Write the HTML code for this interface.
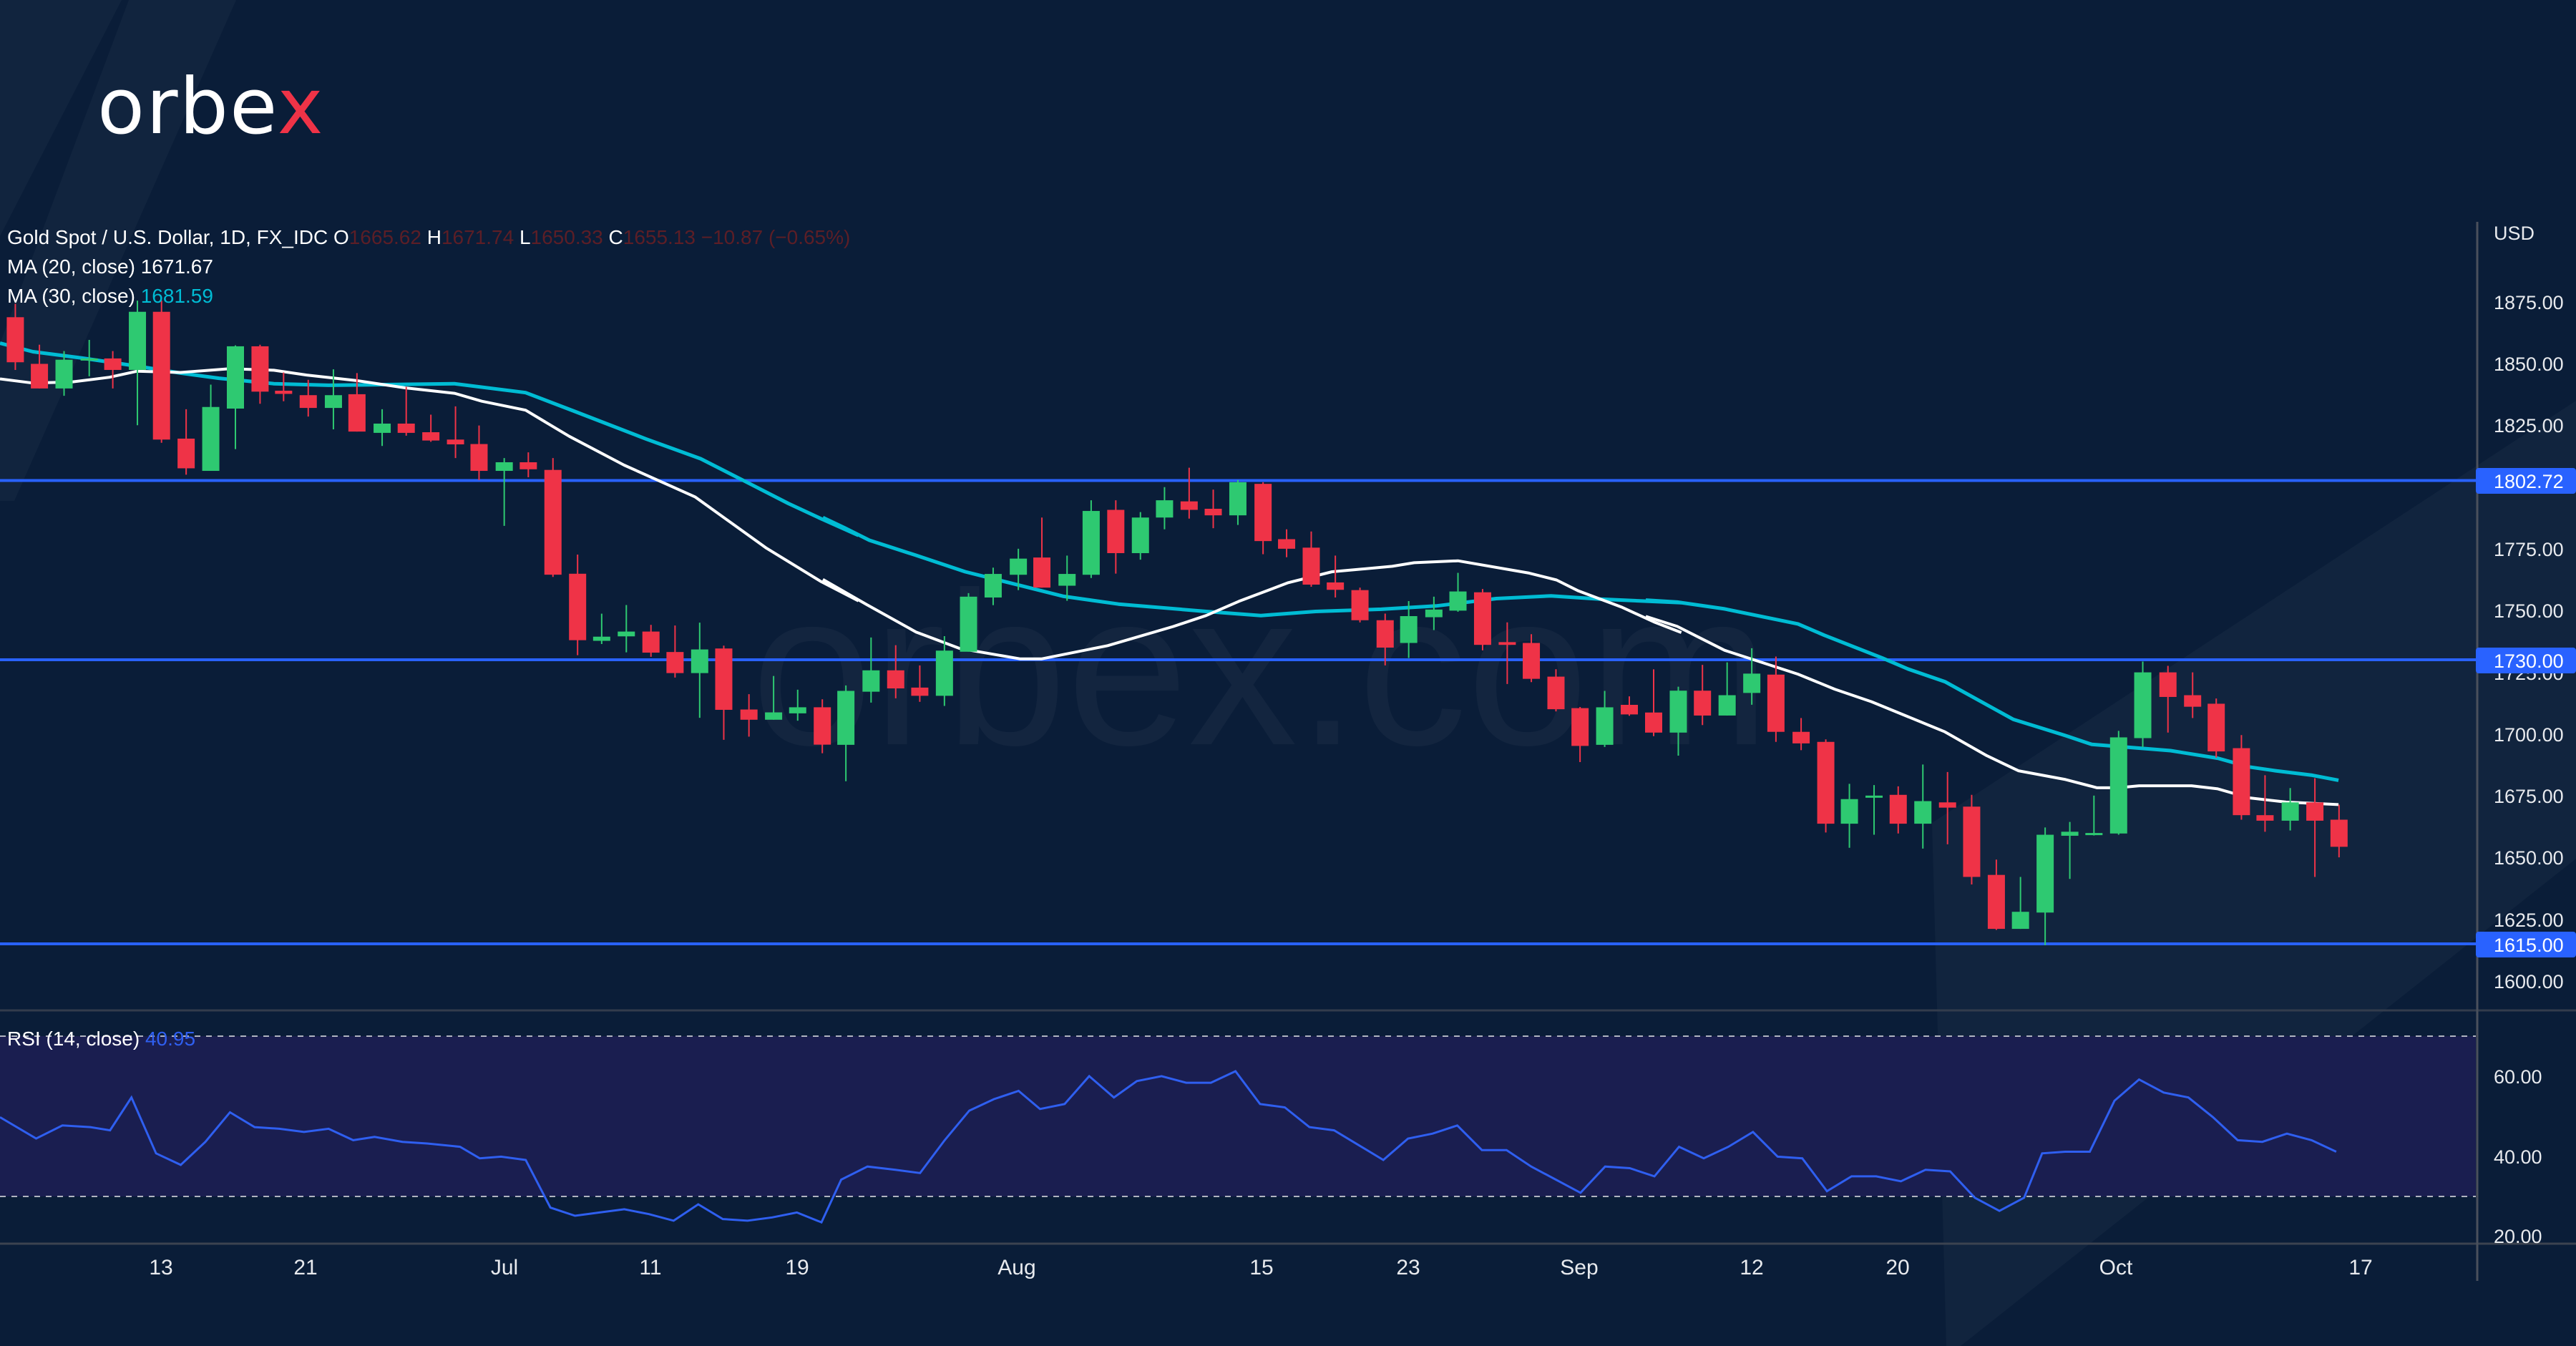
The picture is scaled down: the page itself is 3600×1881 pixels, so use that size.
<!DOCTYPE html>
<html><head><meta charset="utf-8"><style>
html,body{margin:0;padding:0;background:#0a1d38;}
svg{display:block}
</style></head><body>
<svg id="s" width="3600" height="1881" viewBox="0 0 3600 1881" xmlns="http://www.w3.org/2000/svg">
<rect width="3600" height="1881" fill="#0a1d38"/>
<g fill="#ffffff" fill-opacity="0.03">
<polygon points="0,0 170,0 0,330"/>
<polygon points="180,0 330,0 20,700 0,700 0,480"/>
<polygon points="2700,1150 3600,560 3600,1200 2740,1881 2720,1881"/>
</g>
<text x="1050" y="1040" font-family="Liberation Sans, sans-serif" font-size="305" fill="#ffffff" fill-opacity="0.04">orbex.com</text>
<rect x="0" y="1448" width="3460" height="224" fill="#1a1e50"/>
<line x1="0" y1="1448" x2="3460" y2="1448" stroke="#b0b4c0" stroke-width="2" stroke-dasharray="8,8"/>
<line x1="0" y1="1672" x2="3460" y2="1672" stroke="#b0b4c0" stroke-width="2" stroke-dasharray="8,8"/>
<line x1="0" y1="1412" x2="3600" y2="1412" stroke="#333c4c" stroke-width="3"/>
<line x1="0" y1="1738" x2="3600" y2="1738" stroke="#3c4350" stroke-width="3"/>
<g id="hl"></g>
<g id="ma"></g>
<g id="cd"></g>
<g id="rsi"></g>
<line x1="3462" y1="310" x2="3462" y2="1790" stroke="#4a505c" stroke-width="3"/>
<text x="136" y="186" font-family="DejaVu Sans, Liberation Sans, sans-serif" font-size="108" letter-spacing="2" fill="#fff">orbe<tspan fill="#ef3347">x</tspan></text>
<g font-family="Liberation Sans Narrow, Liberation Sans, sans-serif" font-size="28" fill="#fff">
<text x="10" y="341">Gold Spot / U.S. Dollar, 1D, FX_IDC  O<tspan fill="#5c1e26">1665.62</tspan>  H<tspan fill="#5c1e26">1671.74</tspan>  L<tspan fill="#5c1e26">1650.33</tspan>  C<tspan fill="#5c1e26">1655.13  −10.87 (−0.65%)</tspan></text>
<text x="10" y="382">MA (20, close)  1671.67</text>
<text x="10" y="423">MA (30, close)  <tspan fill="#00bcd4">1681.59</tspan></text>
<text x="10" y="1461">RSI (14, close)  <tspan fill="#2f5ff0">40.95</tspan></text>
</g>
<g font-family="Liberation Sans, sans-serif" font-size="27" fill="#e8eaee">
<text x="3485" y="335">USD</text>
<text x="3485" y="432">1875.00</text>
<text x="3485" y="518">1850.00</text>
<text x="3485" y="604">1825.00</text>
<text x="3485" y="777">1775.00</text>
<text x="3485" y="863">1750.00</text>
<text x="3485" y="950">1725.00</text>
<text x="3485" y="1036">1700.00</text>
<text x="3485" y="1122">1675.00</text>
<text x="3485" y="1208">1650.00</text>
<text x="3485" y="1295">1625.00</text>
<text x="3485" y="1381">1600.00</text>
<text x="3485" y="1514">60.00</text>
<text x="3485" y="1626">40.00</text>
<text x="3485" y="1737">20.00</text>
</g>
<g font-family="Liberation Sans, sans-serif" font-size="27">
<rect x="3460" y="654" width="140" height="36" rx="4" fill="#2962ff"/><text x="3485" y="682" fill="#fff">1802.72</text>
<rect x="3460" y="905" width="140" height="36" rx="4" fill="#2962ff"/><text x="3485" y="933" fill="#fff">1730.00</text>
<rect x="3460" y="1302" width="140" height="36" rx="4" fill="#2962ff"/><text x="3485" y="1330" fill="#fff">1615.00</text>
</g>
<g font-family="Liberation Sans Narrow, Liberation Sans, sans-serif" font-size="30" fill="#e8eaee" text-anchor="middle">
<text x="225" y="1781">13</text><text x="427" y="1781">21</text><text x="705" y="1781">Jul</text>
<text x="909" y="1781">11</text><text x="1114" y="1781">19</text><text x="1421" y="1781">Aug</text>
<text x="1763" y="1781">15</text><text x="1968" y="1781">23</text><text x="2207" y="1781">Sep</text>
<text x="2448" y="1781">12</text><text x="2652" y="1781">20</text><text x="2957" y="1781">Oct</text>
<text x="3299" y="1781">17</text>
</g>
</svg>
<script>
var NS="http://www.w3.org/2000/svg";
function el(p,t,a){var e=document.createElementNS(NS,t);for(var k in a)e.setAttribute(k,a[k]);document.getElementById(p).appendChild(e);return e;}
[671.5,922,1319].forEach(function(y){el("hl","line",{x1:0,y1:y,x2:3460,y2:y,stroke:"#2962ff","stroke-width":4});});
var segs=[
 {ox:0,oy:400,sx:1.307,sy:2.24,d:[
 [28,"R",97,238,55,262],[72,"R",243,320,183,320],[117,"G",230,320,203,343],[163,"G",226,232,168,282],[206,"R",226,262,203,320],
 [251,"G",80,262,45,435],[295,"R",80,480,45,490],[340,"R",477,570,385,590],[385,"G",378,578,308,578],[430,"G",188,383,185,510],
 [475,"R",188,330,183,368],[518,"R",327,337,270,360],[563,"R",341,381,293,408],[609,"G",341,381,260,448],[652,"R",338,455,272,455],
 [698,"G",430,459,385,500],[742,"R",430,459,315,468],[787,"R",457,483,402,487],[832,"R",480,495,376,538],[875,"R",494,578,436,607],
 [921,"G",551,578,538,750],[965,"R",551,573,520,598],[1010,"R",575,903,538,910],[1055,"R",900,1108,840,1155],[1099,"G",1097,1110,1025,1120],
 [1144,"G",1081,1096,998,1146],[1189,"R",1081,1147,1060,1160],[1233,"R",1145,1211,1062,1225],[1278,"G",1137,1211,1053,1351],[1322,"R",1134,1326,1125,1420],
 [1368,"R",1325,1357,1277,1410],[1413,"G",1334,1357,1220,1357],[1457,"G",1318,1337,1263,1360],[1502,"R",1318,1435,1293,1462]]},
 {ox:1150,oy:600,sx:1.307,sy:2.613,d:[
 [42,"G",955,1152,935,1285],[88,"G",880,958,760,998],[133,"R",880,946,788,982],[177,"R",943,973,862,995],[222,"G",808,973,755,1010],
 [266,"G",611,812,598,812],[311,"G",528,614,505,642],[357,"G",472,531,436,587],[400,"R",468,578,322,578],[446,"G",528,571,461,626],
 [490,"G",298,531,259,543],[535,"R",294,452,259,527],[580,"G",322,452,302,476],[624,"G",259,322,211,365],[669,"R",263,294,140,326],
 [713,"R",290,314,220,361],[758,"G",193,314,185,349],[804,"R",199,408,193,456],[847,"R",401,436,365,467],[892,"R",432,567,373,575],
 [936,"R",559,586,461,614],[981,"R",587,697,578,705],[1027,"R",697,797,673,862],[1070,"G",682,780,627,835],[1116,"G",658,686,611,733],
 [1160,"G",592,662,524,666],[1205,"R",595,787,583,807],[1250,"R",777,787,705,930],[1294,"R",780,911,748,923],[1339,"R",903,1022,876,1030],
 [1383,"R",1018,1156,1014,1215],[1428,"G",1015,1152,955,1160],[1473,"R",1006,1041,975,1046]]},
 {ox:2300,oy:800,sx:1.3635,sy:2.851,d:[
 [15,"R",558,638,386,652],[62,"G",471,638,455,730],[108,"R",471,570,368,608],[155,"G",489,570,358,570],[202,"G",403,480,302,527],
 [248,"R",407,635,335,675],[296,"R",635,681,580,708],[343,"R",675,1001,665,1036],[388,"G",903,1001,842,1097],[435,"G",889,893,847,1045],
 [481,"R",886,1001,852,1040],[528,"G",911,1001,765,1100],[575,"R",916,937,795,1083],[621,"R",933,1213,886,1243],[668,"R",1205,1420,1144,1424],
 [714,"G",1352,1420,1213,1420],[761,"G",1045,1355,1016,1485],[808,"G",1033,1049,994,1221],[854,"G",1038,1042,889,1048],[901,"G",657,1040,631,1045],
 [947,"G",398,660,355,696],[995,"R",398,496,372,638],[1042,"R",489,535,398,580],[1087,"R",523,713,502,738],[1135,"R",700,967,648,985],
 [1180,"R",967,989,808,1033],[1228,"G",916,989,859,1028],[1275,"R",916,989,820,1213],[1321,"R",985,1093,925,1135]]}
];
segs.forEach(function(s){s.d.forEach(function(c){
 var x=s.ox+c[0]/s.sx, col=c[1]=="G"?"#2ec971":"#ef3347";
 var bt=s.oy+c[2]/s.sy, bb=s.oy+c[3]/s.sy, wt=s.oy+c[4]/s.sy, wb=s.oy+c[5]/s.sy;
 if(bb-bt<3){bb=bt+3;}
 el("cd","line",{x1:x,y1:wt,x2:x,y2:wb,stroke:col,"stroke-width":2});
 el("cd","rect",{x:x-12,y:bt,width:24,height:bb-bt,fill:col});
});});
function poly(pts,s,col,w){var p=pts.map(function(q){return (s.ox+q[0]/s.sx).toFixed(1)+","+(s.oy+q[1]/s.sy).toFixed(1)}).join(" ");
 el("ma","polyline",{points:p,fill:"none",stroke:col,"stroke-width":w,"stroke-linejoin":"round"});}
var W=[[[0,290],[60,303],[130,300],[200,285],[250,266],[330,270],[420,258],[500,263],[560,278],[650,295],[740,318],[830,335],[880,360],[960,388],[1040,470],[1140,560],[1270,660],[1400,820],[1500,925],[1568,985]],
 [[0,548],[80,640],[170,740],[250,800],[360,838],[400,838],[520,790],[640,720],[700,680],[760,628],[850,560],[930,520],[1040,500],[1080,487],[1160,480],[1290,525],[1340,550],[1380,590],[1460,650],[1520,705],[1568,742]],
 [[0,175],[60,215],[150,310],[290,405],[360,465],[430,515],[570,635],[650,730],[710,790],[800,825],[860,858],[900,858],[940,850],[1040,850],[1090,862],[1150,898],[1220,915],[1320,925]]];
var C=[[[0,178],[60,205],[150,225],[250,250],[330,272],[400,288],[500,305],[600,310],[700,308],[830,305],[960,333],[1050,392],[1180,478],[1280,540],[1360,610],[1440,680],[1500,728],[1568,780]],
 [[0,322],[40,360],[85,405],[170,460],[260,520],[350,565],[440,610],[540,638],[700,665],[800,680],[900,665],[1020,657],[1120,645],[1230,618],[1330,608],[1420,620],[1568,633]],
 [[0,110],[60,118],[150,145],[290,205],[340,250],[450,340],[500,385],[570,435],[700,585],[800,650],[850,685],[1000,710],[1090,740],[1150,775],[1200,790],[1270,808],[1320,828]]];
for(var i=0;i<3;i++){poly(C[i],segs[i],"#00bcd4",5);}
for(var i=0;i<3;i++){poly(W[i],segs[i],"#ffffff",4);}
var R=[[0,680],[22,693],[38,685],[55,686],[67,688],[80,668],[95,702],[110,709],[125,695],[140,677],[155,686],[170,687],[185,689],[200,687],[215,694],[228,692],[245,695],[260,696],[280,698],[292,705],[305,704],[320,706],[335,735],[350,740],[365,738],[380,736],[395,739],[410,743],[425,733],[440,742],[455,743],[470,741],[485,738],[500,744],[512,718],[528,710],[545,712],[560,714],[575,694],[590,676],[605,669],[620,664],[633,675],[648,672],[663,655],[678,668],[692,658],[707,655],[722,659],[737,659],[752,652],[767,672],[782,674],[797,686],[812,688],[827,697],[842,706],[857,693],[872,690],[887,685],[902,700],[917,700],[932,710],[947,718],[962,726],[977,710],[992,711],[1007,716],[1022,698],[1037,705],[1052,698],[1067,689],[1082,704],[1097,705],[1112,725],[1127,716],[1142,716],[1157,719],[1172,712],[1187,713],[1202,729],[1217,737],[1232,729],[1243,702],[1257,701],[1272,701],[1287,670],[1302,657],[1317,665],[1332,668],[1347,680],[1362,694],[1377,695],[1392,690],[1407,694],[1422,701]];
el("rsi","polyline",{points:R.map(function(q){return (q[0]*2.296).toFixed(1)+","+(q[1]*2.296).toFixed(1)}).join(" "),fill:"none",stroke:"#2f5ff0","stroke-width":3});
</script>
</body></html>
